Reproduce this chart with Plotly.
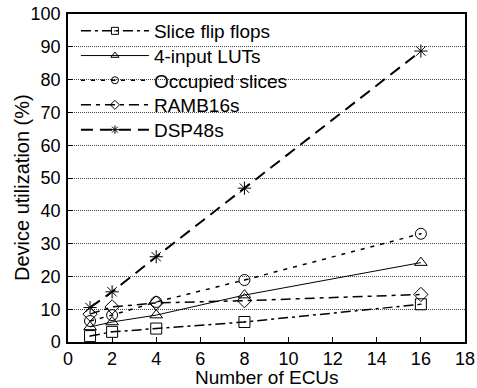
import plotly.graph_objects as go

ecus = [1, 2, 4, 8, 16]
slice_ff = [1.8, 3.1, 4.1, 6.1, 11.5]
luts = [4.6, 6.1, 8.2, 14.3, 24.2]
occupied = [6.4, 8.2, 12.2, 18.9, 33.0]
ramb = [8.5, 10.7, 11.9, 12.6, 14.5]
dsp = [10.5, 15.3, 26.0, 46.9, 88.7]

names = ["Slice flip flops", "4-input LUTs", "Occupied slices", "RAMB16s", "DSP48s"]
series = [slice_ff, luts, occupied, ramb, dsp]
symbols = ["square-open-dot", "triangle-up-open", "circle-open-dot", "diamond-open", "asterisk-open"]
dashes = ["10px,4px,3px,4px", "solid", "4px,6px", "10px,5px,4px,5px", "12px,7px"]
widths = [1.5, 1, 1.5, 1.5, 2]

# plot area geometry (px) used to place legend rows and titles
W, H = 477, 388
ML, MR, MT, MB = 68, 12, 14, 46
ph = H - MT - MB
pw = W - ML - MR
legend_centers_px = [31, 55.7, 80.4, 105, 129.8]

fig = go.Figure()
for i, (n, ys) in enumerate(zip(names, series)):
    fig.add_trace(go.Scatter(
        x=ecus, y=ys, name=n, mode="lines+markers", showlegend=False,
        line=dict(color="black", width=widths[i], dash=dashes[i]),
        marker=dict(symbol=symbols[i], size=11, color="black",
                    line=dict(color="black", width=1)),
    ))

legend_layouts = {}
for i, n in enumerate(names):
    lname = "legend" if i == 0 else f"legend{i + 1}"
    fig.add_trace(go.Scatter(
        x=[None], y=[None], name=n, mode="lines+markers", showlegend=True,
        legend=lname,
        line=dict(color="black", width=widths[i], dash=dashes[i]),
        marker=dict(symbol=symbols[i], size=7, color="black",
                    line=dict(color="black", width=1)),
    ))
    legend_layouts[lname] = dict(
        x=0.02, y=(H - MB - legend_centers_px[i]) / ph,
        xanchor="left", yanchor="middle",
        bgcolor="rgba(0,0,0,0)", borderwidth=0, itemwidth=68,
        font=dict(size=19),
    )

fig.update_layout(
    template="none",
    width=W, height=H,
    margin=dict(l=ML, r=MR, t=MT, b=MB, autoexpand=False),
    paper_bgcolor="white", plot_bgcolor="white",
    font=dict(family="Liberation Sans, Arial, sans-serif", size=18, color="black"),
    showlegend=True,
    **legend_layouts,
)
# white legend background: hides gridlines behind the legend rows
fig.add_shape(
    type="rect", xref="paper", yref="paper", layer="between",
    x0=0.004, x1=(285 - ML) / pw, y0=(H - MB - 140) / ph, y1=0.996,
    fillcolor="white", line=dict(width=0),
)
fig.add_annotation(
    text="Device utilization (%)", textangle=-90,
    xref="paper", yref="paper",
    x=(22 - ML) / pw, y=(H - MB - 188) / ph,
    xanchor="center", yanchor="middle", showarrow=False,
    font=dict(size=20),
)
fig.add_annotation(
    text="Number of ECUs",
    xref="paper", yref="paper",
    x=(267 - ML) / pw, y=(H - MB - 377) / ph,
    xanchor="center", yanchor="middle", showarrow=False,
    font=dict(size=19),
)
fig.update_xaxes(
    range=[0, 18], tick0=0, dtick=2, ticks="inside", ticklen=5,
    tickcolor="black", tickwidth=1, automargin=False,
    showline=True, linecolor="black", linewidth=1.5, mirror=True,
    showgrid=False, zeroline=False, ticklabelstandoff=0,
)
fig.update_yaxes(
    range=[0, 100], tick0=0, dtick=10, ticks="inside", ticklen=5,
    tickcolor="black", tickwidth=1, automargin=False,
    showline=True, linecolor="black", linewidth=1.5, mirror=True,
    showgrid=True, gridcolor="#444", griddash="1px,1px", gridwidth=1,
    zeroline=False, ticklabelstandoff=2,
)
fig.write_html("out.html", config={"displayModeBar": False},
               post_script="document.body.style.margin='0';")
